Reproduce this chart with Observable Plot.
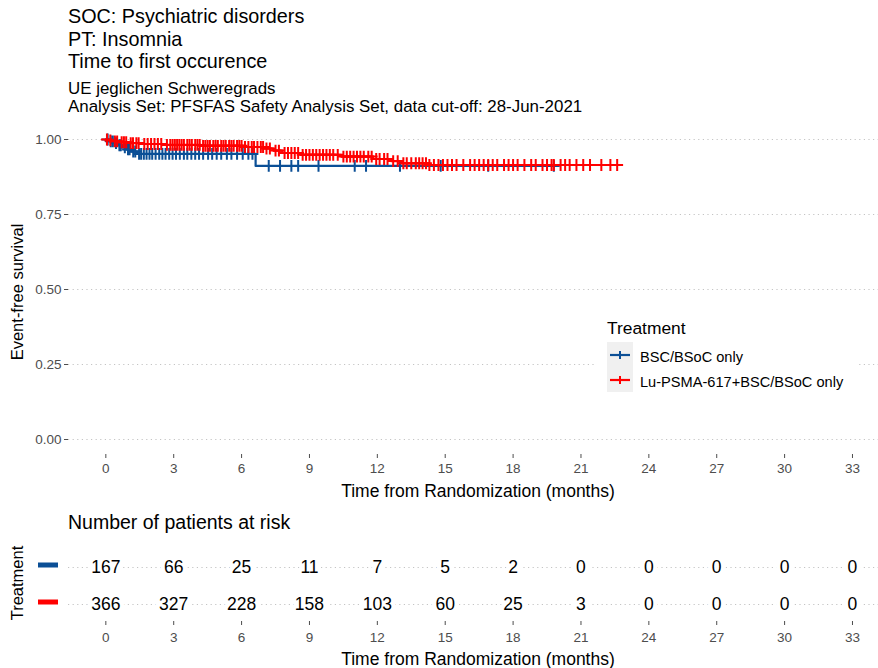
<!DOCTYPE html>
<html><head><meta charset="utf-8">
<script src="https://cdn.jsdelivr.net/npm/d3@7"></script>
<script src="https://cdn.jsdelivr.net/npm/@observablehq/plot@0.6"></script>
<style>
body{margin:0;background:#fff;font-family:"Liberation Sans",Arial,sans-serif;}
#wrap{position:relative;width:878px;height:668px;overflow:hidden;background:#fff;}
.t{position:absolute;left:68px;white-space:nowrap;color:#000;}
#main,#risk,#over{position:absolute;left:0;}
#main{top:115px;} #risk{top:500px;} #over{top:0;pointer-events:none;}
</style></head><body><div id="wrap">
<div class="t" style="top:5px;font-size:19.8px;line-height:22.5px">SOC: Psychiatric disorders<br>PT: Insomnia<br>Time to first occurence</div>
<div class="t" style="top:80px;font-size:16.9px;line-height:17.5px">UE jeglichen Schweregrads<br>Analysis Set: PFSFAS Safety Analysis Set, data cut-off: 28-Jun-2021</div>
<div id="main"></div><div id="risk"></div><svg id="over" width="878" height="668"></svg>
</div>
<script>
// ---------- data ----------
const groups = ["BSC/BSoC only", "Lu-PSMA-617+BSC/BSoC only"];
const colors = ["#0b4f96", "#ff0000"];
const xTicks = [0, 3, 6, 9, 12, 15, 18, 21, 24, 27, 30, 33];
const yTicks = [0, 0.25, 0.5, 0.75, 1];

const blueEventTime = [0.18, 0.36, 0.52, 0.71, 0.93, 1.12, 1.38, 6.62];
const blueEventSurv = [0.994, 0.988, 0.981, 0.974, 0.967, 0.960, 0.952, 0.912];
const blueCensor = [0.08, 0.22, 0.31, 0.45, 0.6, 0.66, 0.84, 0.98, 1.05, 1.21, 1.3, 1.47, 1.56, 1.68, 1.8, 1.93, 2.05, 2.2, 2.36, 2.5, 2.64, 2.8, 2.95, 3.1, 3.27, 3.45, 3.6, 3.78, 3.95, 4.12, 4.3, 4.52, 4.7, 4.9, 5.1, 5.35, 5.55, 5.8, 6.05, 6.3, 6.48, 7.2, 7.7, 8.2, 8.5, 9.4, 11.0, 11.5, 13.0, 14.8, 16.9, 19.8];

const redEventTime = [0.1, 0.3, 0.6, 1.0, 1.6, 2.6, 4.2, 6.1, 7.0, 7.4, 7.8, 8.6, 10.4, 11.8, 12.6, 13.0, 14.3];
const redEventSurv = [0.997, 0.994, 0.991, 0.988, 0.985, 0.982, 0.979, 0.975, 0.970, 0.963, 0.955, 0.949, 0.943, 0.935, 0.928, 0.921, 0.915];
const redCensor = [0.05, 0.2, 0.4, 0.5, 0.7, 0.8, 0.9, 1.1, 1.2, 1.35, 1.45, 1.7, 1.85, 2.0, 2.15, 2.3, 2.45, 2.7, 2.85, 2.95,
  3.05, 3.15, 3.25, 3.35, 3.45, 3.6, 3.7, 3.8, 3.95, 4.05, 4.15, 4.3, 4.4, 4.5, 4.6, 4.75, 4.85, 4.95, 5.1, 5.2, 5.3, 5.45, 5.55, 5.65, 5.8, 5.9, 6.0,
  6.15, 6.3, 6.45, 6.55, 6.7, 6.85, 6.95, 7.1, 7.25, 7.5, 7.65, 7.9, 8.05, 8.2, 8.35, 8.5, 8.7, 8.85, 9.0,
  9.15, 9.3, 9.45, 9.6, 9.75, 9.9, 10.05, 10.25, 10.5, 10.65, 10.8, 10.95, 11.1, 11.25, 11.4, 11.6, 11.75, 11.95,
  12.1, 12.3, 12.45, 12.7, 12.9, 13.15, 13.3, 13.5, 13.7, 13.85, 14.0, 14.15, 14.3, 14.5, 14.7, 14.9,
  15.1, 15.3, 15.5, 15.8, 16.1, 16.3, 16.5, 16.7, 16.9, 17.1, 17.3, 17.6, 17.8,
  18.0, 18.2, 18.5, 18.8, 19.0, 19.3, 19.5, 19.7, 19.8, 20.1, 20.3, 20.5, 20.8, 21.1, 21.4, 21.9, 22.3, 22.6];

const riskBlue = [167, 66, 25, 11, 7, 5, 2, 0, 0, 0, 0, 0];
const riskRed = [366, 327, 228, 158, 103, 60, 25, 3, 0, 0, 0, 0];

// ---------- build tables ----------
function survAt(t, times, surv) { let s = 1; times.forEach((u, i) => { if (u <= t) s = surv[i]; }); return s; }
function steps(times, surv, end, g) {
  const pts = [{t: 0, s: 1, g}];
  times.forEach((t, i) => pts.push({t, s: surv[i], g}));
  pts.push({t: end, s: surv[surv.length - 1], g});
  return pts;
}
const blueSteps = steps(blueEventTime, blueEventSurv, d3.max(blueCensor), groups[0]);
const redSteps = steps(redEventTime, redEventSurv, d3.max(redCensor), groups[1]);
const blueCens = blueCensor.map(t => ({t, s: survAt(t, blueEventTime, blueEventSurv)}));
const redCens = redCensor.map(t => ({t, s: survAt(t, redEventTime, redEventSurv)}));
const riskData = xTicks.flatMap((t, i) => [{t, g: groups[0], n: riskBlue[i]}, {t, g: groups[1], n: riskRed[i]}]);

const xDomain = [-1.65, 34.15];
const font = "Liberation Sans, Arial, sans-serif";
const grid = {stroke: "#c4c4c4", strokeOpacity: 1, strokeDasharray: "1.2,3.4", strokeWidth: 1};

const main = Plot.plot({
  width: 878, height: 385, marginLeft: 68, marginRight: 0, marginTop: 9, marginBottom: 46,
  style: {fontFamily: font, fontSize: "13.5px", color: "#4d4d4d", background: "transparent"},
  x: {domain: xDomain},
  y: {domain: [-0.05, 1.05]},
  marks: [
    Plot.gridY(yTicks, grid),
    Plot.line(blueSteps, {x: "t", y: "s", curve: "step-after", stroke: colors[0], strokeWidth: 2.2}),
    Plot.line(redSteps, {x: "t", y: "s", curve: "step-after", stroke: colors[1], strokeWidth: 2.2}),
    Plot.dot(blueCens, {x: "t", y: "s", symbol: "plus", r: 3.9, stroke: colors[0], strokeWidth: 2}),
    Plot.dot(redCens, {x: "t", y: "s", symbol: "plus", r: 3.9, stroke: colors[1], strokeWidth: 2}),
    Plot.axisX({ticks: xTicks, tickSize: 4, tickPadding: 5, label: null, fontSize: 13.5}),
    Plot.axisY({ticks: yTicks, tickFormat: d3.format(".2f"), tickSize: 4, tickPadding: 3, label: null, fontSize: 13.5})
  ]
});
document.getElementById("main").appendChild(main);

const risk = Plot.plot({
  width: 878, height: 168, marginLeft: 68, marginRight: 0, marginTop: 50, marginBottom: 47,
  style: {fontFamily: font, fontSize: "13.5px", color: "#4d4d4d", background: "transparent"},
  x: {domain: xDomain},
  y: {type: "point", domain: groups, range: [67, 104], padding: 0},
  marks: [
    Plot.gridY(groups, grid),
    Plot.text(riskData, {x: "t", y: "g", text: "n", fontSize: 17.5, fill: "black", stroke: "white", strokeWidth: 9, paintOrder: "stroke"}),
    Plot.axisX({ticks: xTicks, tickSize: 4, tickPadding: 7, label: null, fontSize: 13.5}),
    Plot.axisY({ticks: [], label: null})
  ]
});
document.getElementById("risk").appendChild(risk);

// colored keys left of the risk rows
const ry = risk.scale("y");
const rsvg = d3.select(risk.tagName.toLowerCase() === "svg" ? risk : risk.querySelector("svg"));
groups.forEach((g, i) => {
  rsvg.append("line").attr("x1", 38).attr("x2", 58).attr("y1", ry.apply(g) - 2).attr("y2", ry.apply(g) - 2)
    .attr("stroke", colors[i]).attr("stroke-width", 5);
});

// ---------- overlay: axis titles and legend ----------
const ov = d3.select("#over");
function txt(x, y, s, size, opts = {}) {
  const el = ov.append("text").attr("x", x).attr("y", y).text(s)
    .attr("font-family", font).attr("font-size", size).attr("fill", opts.fill || "#000")
    .attr("dominant-baseline", "central").attr("text-anchor", opts.anchor || "start");
  if (opts.rotate) el.attr("transform", `rotate(-90 ${x} ${y})`);
  return el;
}
txt(478, 491, "Time from Randomization (months)", 17.5, {anchor: "middle"});
txt(17, 292, "Event-free survival", 16.5, {anchor: "middle", rotate: true});
// legend
ov.append("rect").attr("x", 597).attr("y", 312).attr("width", 262).attr("height", 88).attr("fill", "#fff");
txt(607, 328, "Treatment", 17.4);
ov.append("rect").attr("x", 607).attr("y", 342).attr("width", 26).attr("height", 50).attr("fill", "#f0f0f0");
groups.forEach((g, i) => {
  const y = 355 + i * 25;
  ov.append("line").attr("x1", 610).attr("x2", 630).attr("y1", y).attr("y2", y).attr("stroke", colors[i]).attr("stroke-width", 2.2);
  ov.append("line").attr("x1", 620).attr("x2", 620).attr("y1", y - 4).attr("y2", y + 4).attr("stroke", colors[i]).attr("stroke-width", 2);
  txt(640, y + 2, g, 14.6);
});
// risk table titles
txt(68, 522, "Number of patients at risk", 19.5);
txt(17, 583, "Treatment", 16.5, {anchor: "middle", rotate: true});
txt(478, 659, "Time from Randomization (months)", 17.5, {anchor: "middle"});
</script>
</body></html>
